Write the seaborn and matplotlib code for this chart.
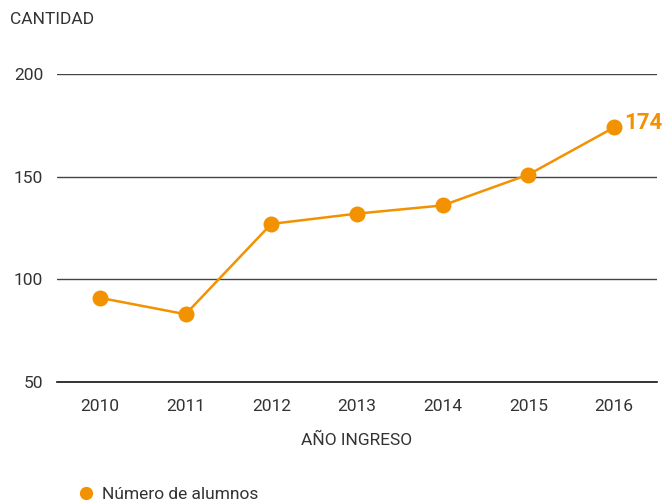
import matplotlib
matplotlib.use("Agg")
import matplotlib.pyplot as plt
import seaborn as sns
import pandas as pd
import numpy as np
from matplotlib.ticker import FixedLocator

years = ["2010", "2011", "2012", "2013", "2014", "2015", "2016"]
alumnos = [91, 83, 127, 132, 136, 151, 174]

df = pd.DataFrame({"anio": years, "alumnos": alumnos})

sns.set_style("white")
plt.rcParams["font.family"] = ["Roboto", "DejaVu Sans"]

orange = "#F39200"
text_col = "#333333"
fs = 12.5

fig = plt.figure(figsize=(6.64, 5.03), dpi=100)
ax = fig.add_axes([57 / 664, 1 - 382 / 503, 600 / 664, 308 / 503])

sns.lineplot(data=df, x="anio", y="alumnos", ax=ax, color=orange, linewidth=1.8,
             marker="o", markersize=11.5, markeredgewidth=0, sort=False, zorder=3)

ax.set_xlim(-0.5, len(years) - 0.5)
ax.set_ylim(50, 200)
ax.set_yticks([50, 100, 150, 200])
for v in [100, 150, 200]:
    ax.axhline(v, color="#444444", linewidth=1, zorder=1)

for s in ["top", "right", "left"]:
    ax.spines[s].set_visible(False)
ax.spines["bottom"].set_color("#111111")
ax.spines["bottom"].set_linewidth(1.2)

# tick marks between categories, labels at the centres
ax.tick_params(axis="x", which="major", length=0, pad=12, labelsize=fs, labelcolor=text_col)
ax.xaxis.set_minor_locator(FixedLocator(np.arange(0.5, len(years) - 1, 1)))
ax.tick_params(axis="x", which="minor", direction="in", length=6, width=1, color="#111111")
ax.tick_params(axis="y", length=0, pad=10, labelsize=fs, labelcolor=text_col)

ax.set_xlabel("AÑO INGRESO", fontsize=fs, color=text_col, labelpad=14)
ax.set_ylabel("")
fig.text(10 / 664, 1 - 20 / 503, "CANTIDAD", fontsize=fs, color=text_col, va="center", ha="left")

ax.annotate(str(alumnos[-1]), xy=(len(years) - 1, alumnos[-1]), xytext=(7, 3),
            textcoords="offset points", color=orange, fontsize=16, fontweight="bold",
            va="center", ha="left", annotation_clip=False)

ax.plot([], [], "o", color=orange, markersize=8.5, label="Número de alumnos")
ax.legend(loc="center left", bbox_to_anchor=(60 / 664, 9 / 503), bbox_transform=fig.transFigure,
          frameon=False, fontsize=fs, handletextpad=0.3, handlelength=1.2,
          labelcolor=text_col)

fig.savefig("out.png", dpi=100)
